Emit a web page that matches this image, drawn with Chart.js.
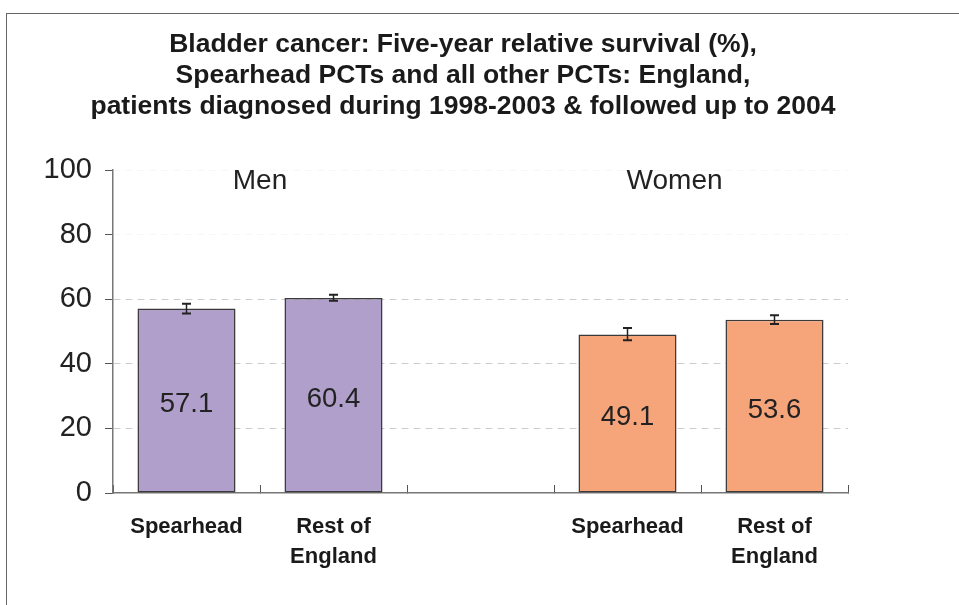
<!DOCTYPE html>
<html>
<head>
<meta charset="utf-8">
<script src="https://cdn.jsdelivr.net/npm/chart.js@4.4.1/dist/chart.umd.min.js"></script>
<style>
  html, body { margin: 0; padding: 0; background: #ffffff; overflow: hidden; }
  #frame { position: absolute; left: 6px; top: 13px; width: 1100px; height: 800px;
           border-left: 1.5px solid #666; border-top: 1.5px solid #666; }
  #wrap { position: absolute; left: 0; top: 0; width: 959px; height: 605px; }
</style>
</head>
<body>
<div id="frame"></div>
<div id="wrap"><canvas id="c" width="959" height="605"></canvas></div>
<script>
// ---- data ----
const titleLines = [
  'Bladder cancer: Five-year relative survival (%),',
  'Spearhead PCTs and all other PCTs: England,',
  'patients diagnosed during 1998-2003 & followed up to 2004'
];
const categories = [['Spearhead'], ['Rest of', 'England'], '', ['Spearhead'], ['Rest of', 'England']];
const survival = [57.1, 60.4, null, 49.1, 53.6];
const lowerCI  = [55.6, 59.5, null, 47.3, 52.3];
const upperCI  = [58.6, 61.4, null, 51.1, 55.0];
const groupLabels = ['Men', 'Women'];
const groupLabelAt = [0.5, 3.32];
const barColours = ['#B09FCA', '#B09FCA', '#ffffff', '#F6A57B', '#F6A57B'];
const yTickStep = 20;

const FONT = '"Liberation Sans", Arial, sans-serif';

const extras = {
  id: 'extras',
  afterDatasetsDraw(chart) {
    const ctx = chart.ctx;
    const meta = chart.getDatasetMeta(0);
    const y = chart.scales.y;
    ctx.save();
    // value labels inside bars
    ctx.fillStyle = '#222';
    ctx.font = '27.5px ' + FONT;
    ctx.textAlign = 'center';
    ctx.textBaseline = 'middle';
    meta.data.forEach((bar, i) => {
      if (survival[i] == null) return;
      ctx.fillText(survival[i].toFixed(1), bar.x, (bar.y + bar.base) / 2 + 4);
    });
    // error bars
    ctx.strokeStyle = '#222';
    meta.data.forEach((bar, i) => {
      if (survival[i] == null) return;
      const yl = y.getPixelForValue(lowerCI[i]);
      const yh = y.getPixelForValue(upperCI[i]);
      ctx.lineWidth = 1.5;
      ctx.beginPath();
      ctx.moveTo(bar.x, yl); ctx.lineTo(bar.x, yh);
      ctx.stroke();
      ctx.lineWidth = 2;
      ctx.beginPath();
      ctx.moveTo(bar.x - 4.5, yl); ctx.lineTo(bar.x + 4.5, yl);
      ctx.moveTo(bar.x - 4.5, yh); ctx.lineTo(bar.x + 4.5, yh);
      ctx.stroke();
    });
    // group labels
    ctx.fillStyle = '#222';
    ctx.font = '28px ' + FONT;
    const x = chart.scales.x;
    groupLabels.forEach((t, k) => {
      ctx.fillText(t, x.getPixelForValue(groupLabelAt[k]), chart.chartArea.top + 11);
    });
    ctx.restore();
  }
};

new Chart(document.getElementById('c'), {
  type: 'bar',
  data: {
    labels: categories,
    datasets: [{
      data: survival,
      backgroundColor: barColours,
      borderColor: '#3a3a3a',
      borderWidth: 1.5,
      borderSkipped: false,
      barPercentage: 0.667,
      categoryPercentage: 1.0
    }]
  },
  options: {
    responsive: false,
    animation: false,
    devicePixelRatio: 1,
    layout: { padding: { left: 0, right: 33, top: 0, bottom: 0 } },
    plugins: {
      legend: { display: false },
      tooltip: { enabled: false },
      title: {
        display: true,
        text: titleLines,
        color: '#1a1a1a',
        font: { family: FONT, size: 26.5, weight: 'bold', lineHeight: 31 / 26.5 },
        padding: { top: 29, bottom: 48 }
      }
    },
    scales: {
      x: {
        offset: true,
        afterFit(s) { s.height = 112; },
        grid: { offset: true, drawOnChartArea: false, drawTicks: true, tickLength: -8, color: '#555', tickColor: '#555', lineWidth: 1 },
        border: { color: '#777', width: 1.5 },
        ticks: { color: '#1a1a1a', padding: 27, font: { family: FONT, size: 22, weight: 'bold', lineHeight: 30 / 22 }, maxRotation: 0, autoSkip: false }
      },
      y: {
        min: 0, max: 100,
        afterFit(s) { s.width = 113; },
        grid: {
          color: (c) => (c.tick && (c.tick.value === 0)) ? 'rgba(0,0,0,0)' :
                        (c.tick && c.tick.value >= 80) ? 'rgba(200,200,200,0.15)' : '#cdcdcd',
          tickColor: '#555',
          tickLength: 8,
          tickBorderDash: [],
          borderDash: [7, 5],
          lineWidth: 1
        },
        border: { color: '#777', width: 1.5, dash: [7, 5] },
        ticks: { stepSize: yTickStep, color: '#222', padding: 13, font: { family: FONT, size: 29 } }
      },
      spacer: {
        type: 'linear',
        position: 'right',
        min: 0, max: 100,
        afterFit(s) { s.width = 78; },
        grid: { display: false, drawOnChartArea: false, drawTicks: false },
        border: { display: false },
        ticks: { display: false }
      }
    }
  },
  plugins: [extras]
});
</script>
</body>
</html>
